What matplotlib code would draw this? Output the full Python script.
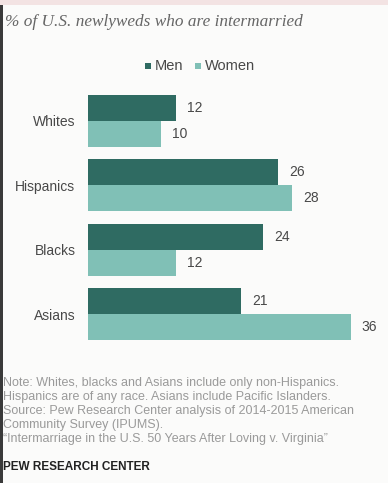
import matplotlib.pyplot as plt
import numpy as np
from matplotlib.patches import Rectangle

# Datos del gráfico
grupos = ["Whites", "Hispanics", "Blacks", "Asians"]
hombres = [12, 26, 24, 21]
mujeres = [10, 28, 12, 36]

titulo = "% of U.S. newlyweds who are intermarried"
notas = [
    "Note: Whites, blacks and Asians include only non-Hispanics.",
    "Hispanics are of any race. Asians include Pacific Islanders.",
    "Source: Pew Research Center analysis of 2014-2015 American",
    "Community Survey (IPUMS).",
    "\u201cIntermarriage in the U.S. 50 Years After Loving v. Virginia\u201d",
]

# Colores
c_hombres = "#2f6b62"
c_mujeres = "#80c0b6"
gris = "#484848"

W, H = 388, 483
fig = plt.figure(figsize=(W / 100, H / 100), dpi=100)
fig.patch.set_facecolor("#fbfbfa")

# Bordes de la foto original
fig.add_artist(Rectangle((0, 0), 3 / W, 1, transform=fig.transFigure, color="#3a3a3a", lw=0))
fig.add_artist(Rectangle((0, 1 - 5 / H), 1, 5 / H, transform=fig.transFigure, color="#f3e3e3", lw=0))

# Ejes: barras de x=88 a x=380 px, y=95 a 340 px
ax = fig.add_axes([88 / W, 1 - 340 / H, (380 - 88) / W, (340 - 95) / H])
ax.set_facecolor("none")

y = np.arange(len(grupos))
alto = 0.4
ax.barh(y - alto / 2, hombres, height=alto, color=c_hombres)
ax.barh(y + alto / 2, mujeres, height=alto, color=c_mujeres)

for i in range(len(grupos)):
    ax.text(hombres[i] + 1.5, y[i] - alto / 2, str(hombres[i]), va="center", ha="left",
            fontsize=10, color=gris, family="Liberation Sans")
    ax.text(mujeres[i] + 1.5, y[i] + alto / 2, str(mujeres[i]), va="center", ha="left",
            fontsize=10, color=gris, family="Liberation Sans")

ax.set_xlim(0, (380 - 88) / 7.3)
ax.set_ylim(len(grupos) - 1 + alto, -alto)
ax.set_yticks(y)
ax.set_yticklabels(grupos, fontsize=10, color=gris, family="Liberation Sans")
ax.tick_params(axis="y", length=0, pad=9)
ax.set_xticks([])
for s in ax.spines.values():
    s.set_visible(False)

# Título
fig.text(5 / W, 1 - 22 / H, titulo, fontsize=12.4, style="italic", color="#666666",
         family="Liberation Serif", va="center", ha="left")

# Leyenda
fig.add_artist(Rectangle((145 / W, 1 - 69 / H), 6 / W, 6 / H, transform=fig.transFigure,
                         color=c_hombres, lw=0))
fig.text(155 / W, 1 - 66 / H, "Men", fontsize=10.5, color=gris, va="center", ha="left",
         family="Liberation Sans")
fig.add_artist(Rectangle((195 / W, 1 - 69 / H), 6 / W, 6 / H, transform=fig.transFigure,
                         color=c_mujeres, lw=0))
fig.text(205 / W, 1 - 66 / H, "Women", fontsize=10.5, color=gris, va="center", ha="left",
         family="Liberation Sans")

# Notas
for k, linea in enumerate(notas):
    fig.text(3 / W, 1 - (383 + 14 * k) / H, linea, fontsize=9, color="#9a9a9a",
             va="center", ha="left", family="Liberation Sans")

fig.text(3 / W, 1 - 467 / H, "PEW RESEARCH CENTER", fontsize=8.5, fontweight="bold",
         color="#222222", va="center", ha="left", family="Liberation Sans")

fig.savefig("out.png", dpi=100, facecolor=fig.get_facecolor())
